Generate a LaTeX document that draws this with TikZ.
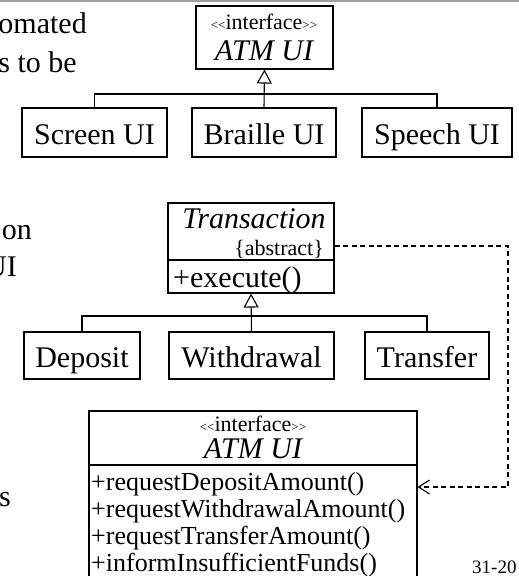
\documentclass[tikz,border=0pt]{standalone}
\usepackage{fontspec}
\setmainfont{Liberation Serif}
\usetikzlibrary{arrows.meta}
\newcommand\setfs[1]{\fontsize{#1}{#1}\selectfont}
\newcommand\stereo{\setfs{13}<\kern0pt<\setfs{22}interface\setfs{13}>\kern0pt>}
\begin{document}
\begin{tikzpicture}[x=1pt,y=-1pt,
  box/.style={draw, line width=1.1pt, inner sep=0pt},
  big/.style={inner sep=0pt, anchor=base, font=\setfs{30}},
  cut/.style={inner sep=0pt, anchor=base east, font=\setfs{30}},
  small/.style={inner sep=0pt, anchor=base, font=\setfs{22}},
  meth/.style={inner sep=0pt, anchor=base west, font=\setfs{26}},
  gen/.style={line width=1.1pt, -{Triangle[open, length=14pt, width=15pt, line width=1.1pt]}},
  tree/.style={line width=1.1pt},
  dep/.style={line width=1.1pt, dash pattern=on 5pt off 3.5pt, -{Straight Barb[length=11pt, width=14pt, line width=1.1pt]}}
]
\clip (0,0) rectangle (519,576);
% slide top rule
\coordinate (tl) at (0,1);
\coordinate (tr) at (519,1);
\draw[gray!75, line width=2pt] (tl) -- (tr);

% cut-off slide text on the left
\node[cut] (t1) at (87,33) {omated};
\node[cut] (t2) at (77,72) {s to be};
\node[cut] (t3) at (32,239) {on};
\node[cut] (t4) at (17,276) {UI};
\node[cut] (t5) at (11,506) {s};

% top interface
\node[box, minimum width=137pt, minimum height=63pt] (atmtop) at (264.5,37.5) {};
\node[inner sep=0pt, anchor=base] (atmtopst) at (264,29) {\stereo};
\node[big, font=\setfs{30}\itshape] (atmtopn) at (264,60) {ATM UI};

\node[box, minimum width=145pt, minimum height=49pt] (screen) at (94.5,132.5) {};
\node[box, minimum width=144pt, minimum height=49pt] (braille) at (264,132.5) {};
\node[box, minimum width=150pt, minimum height=49pt] (speech) at (437,132.5) {};
\node[big] (screent) at (94.5,144) {Screen UI};
\node[big] (braillet) at (264,144) {Braille UI};
\node[big] (speecht) at (437,144) {Speech UI};

\coordinate (j1) at (264,94);
\draw[tree] (screen.north) |- (j1);
\draw[tree] (speech.north) |- (j1);
\draw[gen] (braille.north) -- (atmtop.south);

% Transaction
\node[box, minimum width=166pt, minimum height=90pt] (trans) at (251,248) {};
\coordinate (d1) at (0,260);
\draw[line width=1.1pt] (trans.west |- d1) -- (trans.east |- d1);
\node[big, font=\setfs{30}\itshape] (transn) at (254,228) {Transaction};
\node[small, anchor=base east] (abst) at (324,255) {\{abstract\}};
\node[big, anchor=base west] (exec) at (173,287) {+execute()};

\node[box, minimum width=116pt, minimum height=47pt] (deposit) at (82,355.5) {};
\node[box, minimum width=165pt, minimum height=47pt] (withdraw) at (251.5,355.5) {};
\node[box, minimum width=124pt, minimum height=47pt] (transfer) at (427,355.5) {};
\node[big] (depositt) at (82,367) {Deposit};
\node[big] (withdrawt) at (251.5,367) {Withdrawal};
\node[big] (transfert) at (427,367) {Transfer};

\coordinate (j2) at (251.5,316);
\draw[tree] (deposit.north) |- (j2);
\draw[tree] (transfer.north) |- (j2);
\draw[gen] (withdraw.north) -- (trans.south);

% bottom interface
\node[box, minimum width=328pt, minimum height=180pt] (atmbot) at (253,501) {};
\node[inner sep=0pt, anchor=base] (atmbotst) at (253,431) {\stereo};
\node[big, font=\setfs{30}\itshape] (atmbotn) at (253,458) {ATM UI};
\coordinate (d2) at (0,465);
\draw[line width=1.1pt] (atmbot.west |- d2) -- (atmbot.east |- d2);
\node[meth] (m1) at (91,490) {+requestDepositAmount()};
\node[meth] (m2) at (91,517) {+requestWithdrawalAmount()};
\node[meth] (m3) at (91,544) {+requestTransferAmount()};
\node[meth] (m4) at (91,571) {+informInsufficientFunds()};

% dependency
\coordinate (c1) at (508,246);
\coordinate (c2) at (508,487);
\draw[dep] (trans.east |- c1) -- (c1) -- (c2) -- (atmbot.east |- c2);

% page number
\node[inner sep=0pt, anchor=base west, font=\setfs{19}] (pg) at (472,573) {31-20};
\end{tikzpicture}
\end{document}
